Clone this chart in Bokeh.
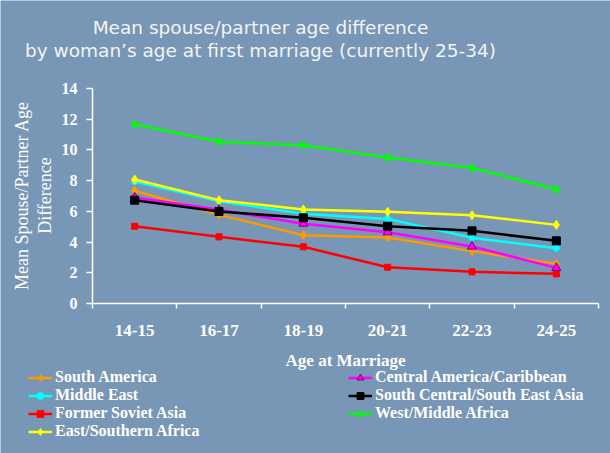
import math
from bokeh.plotting import figure
from bokeh.models import (FixedTicker, Range1d, Label, Legend, LegendItem)
from bokeh.embed import file_html
from bokeh.resources import INLINE

# ---- data ----
ages = ["14-15", "16-17", "18-19", "20-21", "22-23", "24-25"]
south_america = [7.34, 5.77, 4.45, 4.30, 3.41, 2.58]
middle_east = [7.94, 6.66, 5.84, 5.51, 4.28, 3.60]
former_soviet_asia = [5.03, 4.34, 3.69, 2.36, 2.06, 1.93]
east_southern_africa = [8.07, 6.73, 6.12, 5.97, 5.75, 5.12]
central_america_caribbean = [6.90, 6.10, 5.20, 4.64, 3.71, 2.32]
south_central_se_asia = [6.73, 5.99, 5.58, 5.03, 4.73, 4.08]
west_middle_africa = [11.67, 10.53, 10.31, 9.50, 8.83, 7.42]
y_ticks = [0, 2, 4, 6, 8, 10, 12, 14]

BG = "#7896b5"
SERIF = "Liberation Serif"
W, H = 610, 453

# plot-area geometry (pixels on the canvas)
AX_L, AX_R, AX_T, AX_B = 92, 598, 88, 303
n = len(ages)
ymax = y_ticks[-1]
px_x = (AX_R - AX_L) / n
px_y = (AX_B - AX_T) / ymax
x0 = -0.5 - AX_L / px_x
x1 = n - 0.5 + (W - AX_R) / px_x
y0 = -(H - AX_B) / px_y
y1 = ymax + AX_T / px_y

xs = list(range(n))

p = figure(width=W, height=H, output_backend="svg", toolbar_location=None,
           x_range=Range1d(x0, x1), y_range=Range1d(y0, y1),
           min_border=0, min_border_left=0, min_border_right=0,
           min_border_top=0, min_border_bottom=0)
p.background_fill_color = BG
p.border_fill_color = BG
p.outline_line_color = None
p.xgrid.visible = False
p.ygrid.visible = False

# axes, drawn inside the canvas at fixed data locations
p.xaxis.fixed_location = 0
p.xaxis.bounds = (-0.5, n - 0.5)
p.yaxis.fixed_location = -0.5
p.yaxis.bounds = (0, ymax)
p.xaxis.ticker = FixedTicker(ticks=xs, minor_ticks=[i - 0.5 for i in range(n + 1)])
p.xaxis.major_label_overrides = {i: a for i, a in enumerate(ages)}
p.xaxis.major_tick_out = 0
p.xaxis.major_tick_in = 0
p.xaxis.minor_tick_out = 5
p.xaxis.minor_tick_in = 0
p.xaxis.minor_tick_line_color = "white"
p.xaxis.minor_tick_line_width = 1.5
p.xaxis.major_label_standoff = 16
p.yaxis.ticker = FixedTicker(ticks=y_ticks, minor_ticks=[])
p.yaxis.major_tick_out = 6
p.yaxis.major_tick_in = 0
p.yaxis.minor_tick_out = 0
p.yaxis.minor_tick_in = 0
p.yaxis.major_label_standoff = 9
for ax in (p.xaxis, p.yaxis):
    ax.axis_line_color = "white"
    ax.axis_line_width = 1.5
    ax.major_tick_line_color = "white"
    ax.major_tick_line_width = 1.5
    ax.major_label_text_color = "white"
    ax.major_label_text_font = SERIF
    ax.major_label_text_font_style = "bold"
p.xaxis.major_label_text_font_size = "17px"
p.yaxis.major_label_text_font_size = "16px"

series = [
    ("South America", south_america, "#ff9900", "diamond", 9, None),
    ("Middle East", middle_east, "#00ffff", "circle", 6, None),
    ("Former Soviet Asia", former_soviet_asia, "#ff0000", "square", 6, None),
    ("East/Southern Africa", east_southern_africa, "#ffff00", "diamond", 9, None),
    ("Central America/Caribbean", central_america_caribbean, "#ff00ff", "triangle", 9, "#800080"),
    ("South Central/South East Asia", south_central_se_asia, "#000000", "square", 8, None),
    ("West/Middle Africa", west_middle_africa, "#00ff00", "diamond", 9, None),
]

items = {}
for name, vals, color, marker, size, lc in series:
    r1 = p.line(xs, vals, line_color=color, line_width=2.5)
    r2 = p.scatter(xs, vals, marker=marker, size=size, fill_color=color,
                   line_color=lc if lc else color, line_width=1)
    items[name] = LegendItem(label=name, renderers=[r1, r2])

def make_legend(names, loc):
    lg = Legend(items=[items[k] for k in names], location=loc,
                background_fill_alpha=0, border_line_color=None,
                label_text_font=SERIF, label_text_font_style="bold",
                label_text_font_size="16px", label_text_color="white",
                glyph_width=24, glyph_height=17, label_height=17,
                label_standoff=3, spacing=0, padding=0, margin=0)
    p.add_layout(lg, "center")

make_legend(["South America", "Middle East", "Former Soviet Asia", "East/Southern Africa"], (28, 13))
make_legend(["Central America/Caribbean", "South Central/South East Asia", "West/Middle Africa"], (348, 31))

# titles and axis labels (screen units from the canvas bottom-left)
title_font = "DejaVu Sans"
p.add_layout(Label(x=260, y=H - 27, x_units="screen", y_units="screen",
                   text="Mean spouse/partner age difference", text_align="center",
                   text_baseline="alphabetic", text_color="#f4f4f4",
                   text_font=title_font, text_font_size="18.5px"))
p.add_layout(Label(x=260, y=H - 50, x_units="screen", y_units="screen",
                   text="by woman\u2019s age at first marriage (currently 25-34)",
                   text_align="center", text_baseline="alphabetic",
                   text_color="#f4f4f4", text_font=title_font, text_font_size="18.5px"))
p.add_layout(Label(x=21, y=H - 195, x_units="screen", y_units="screen", angle=math.pi / 2,
                   text="Mean Spouse/Partner Age", text_align="center",
                   text_baseline="middle", text_color="white",
                   text_font=SERIF, text_font_size="18px"))
p.add_layout(Label(x=44, y=H - 195, x_units="screen", y_units="screen", angle=math.pi / 2,
                   text="Difference", text_align="center",
                   text_baseline="middle", text_color="white",
                   text_font=SERIF, text_font_size="18px"))
p.add_layout(Label(x=345, y=H - 360, x_units="screen", y_units="screen",
                   text="Age at Marriage", text_align="center",
                   text_baseline="middle", text_color="white",
                   text_font=SERIF, text_font_style="bold", text_font_size="17px"))

open("out.html", "w").write(file_html(p, INLINE))
